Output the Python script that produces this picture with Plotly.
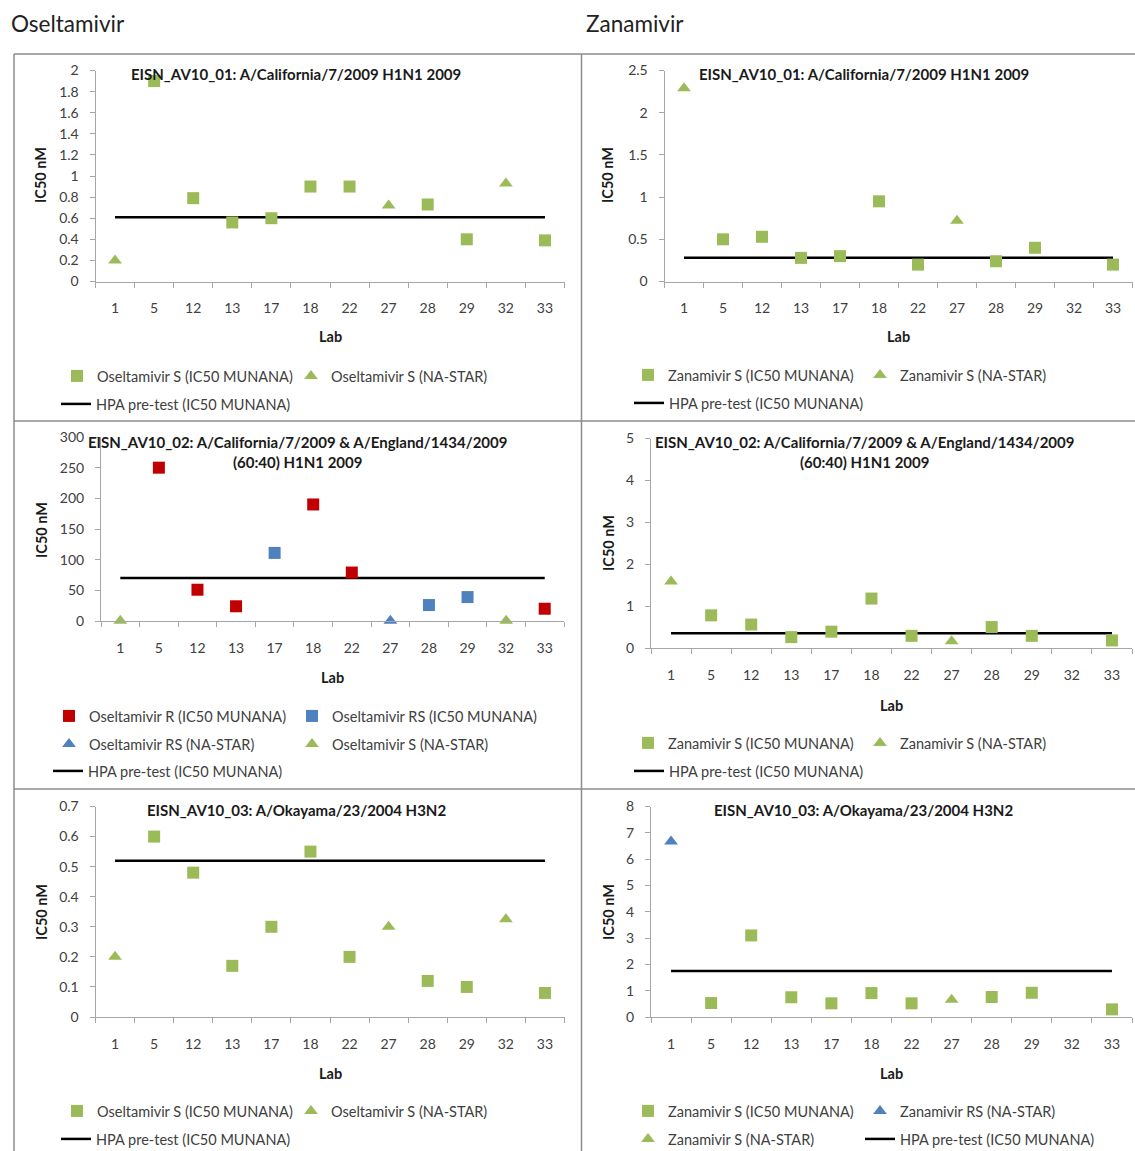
import plotly.graph_objects as go

W, H = 1135, 1151

labs = ["1", "5", "12", "13", "17", "18", "22", "27", "28", "29", "32", "33"]

# Panel 1: Oseltamivir, EISN_AV10_01
p1_s_mun_labs = ["5", "12", "13", "17", "18", "22", "28", "29", "33"]
p1_s_mun_vals = [1.9, 0.79, 0.56, 0.60, 0.90, 0.90, 0.73, 0.40, 0.39]
p1_s_star_labs = ["1", "27", "32"]
p1_s_star_vals = [0.20, 0.72, 0.93]
p1_hpa = 0.61

# Panel 2: Zanamivir, EISN_AV10_01
p2_s_mun_labs = ["5", "12", "13", "17", "18", "22", "28", "29", "33"]
p2_s_mun_vals = [0.50, 0.53, 0.28, 0.30, 0.95, 0.20, 0.24, 0.40, 0.20]
p2_s_star_labs = ["1", "27"]
p2_s_star_vals = [2.29, 0.72]
p2_hpa = 0.28

# Panel 3: Oseltamivir, EISN_AV10_02
p3_r_mun_labs = ["5", "12", "13", "18", "22", "33"]
p3_r_mun_vals = [250, 51, 24, 190, 79, 20]
p3_rs_mun_labs = ["17", "28", "29"]
p3_rs_mun_vals = [111, 26, 39]
p3_rs_star_labs = ["27"]
p3_rs_star_vals = [0.5]
p3_s_star_labs = ["1", "32"]
p3_s_star_vals = [0.5, 0.5]
p3_hpa = 70

# Panel 4: Zanamivir, EISN_AV10_02
p4_s_mun_labs = ["5", "12", "13", "17", "18", "22", "28", "29", "33"]
p4_s_mun_vals = [0.78, 0.56, 0.26, 0.39, 1.18, 0.29, 0.50, 0.29, 0.18]
p4_s_star_labs = ["1", "27"]
p4_s_star_vals = [1.59, 0.16]
p4_hpa = 0.35

# Panel 5: Oseltamivir, EISN_AV10_03
p5_s_mun_labs = ["5", "12", "13", "17", "18", "22", "28", "29", "33"]
p5_s_mun_vals = [0.60, 0.48, 0.17, 0.30, 0.55, 0.20, 0.12, 0.10, 0.08]
p5_s_star_labs = ["1", "27", "32"]
p5_s_star_vals = [0.20, 0.30, 0.325]
p5_hpa = 0.52

# Panel 6: Zanamivir, EISN_AV10_03
p6_s_mun_labs = ["5", "12", "13", "17", "18", "22", "28", "29", "33"]
p6_s_mun_vals = [0.53, 3.1, 0.75, 0.52, 0.91, 0.52, 0.76, 0.92, 0.29]
p6_rs_star_labs = ["1"]
p6_rs_star_vals = [6.67]
p6_s_star_labs = ["27"]
p6_s_star_vals = [0.66]
p6_hpa = 1.75

GREEN = "#9BBB59"
RED = "#C00000"
BLUE = "#4F81BD"
AXC = "#A6A6A6"
TXT = "#404040"
DARK = "#1a1a1a"
FONT = "Lato"

fig = go.Figure()


def sfx_of(k):
    return "" if k == 1 else str(k)


def sq(x, y, name, color, k, leg, lw=None):
    s = sfx_of(k)
    return go.Scatter(x=x, y=y, mode="markers", name=name,
                      marker=dict(symbol="square", size=12, color=color),
                      xaxis="x" + s, yaxis="y" + s, legend=leg, legendwidth=lw,
                      cliponaxis=False)


def tri(x, y, name, color, k, leg, lw=None):
    s = sfx_of(k)
    return go.Scatter(x=x, y=y, mode="markers", name=name,
                      marker=dict(symbol="triangle-up", size=12, color=color),
                      xaxis="x" + s, yaxis="y" + s, legend=leg, legendwidth=lw,
                      cliponaxis=False)


def hpa(v, k, leg):
    s = sfx_of(k)
    return go.Scatter(x=[labs[0], labs[-1]], y=[v, v], mode="lines",
                      name="HPA pre-test (IC50 MUNANA)",
                      line=dict(color="black", width=2.5),
                      xaxis="x" + s, yaxis="y" + s, legend=leg, cliponaxis=False)


# Panel 1
fig.add_trace(hpa(p1_hpa, 1, "legend2"))
fig.add_trace(sq(p1_s_mun_labs, p1_s_mun_vals, "Oseltamivir S (IC50 MUNANA)", GREEN, 1, "legend", 189))
fig.add_trace(tri(p1_s_star_labs, p1_s_star_vals, "Oseltamivir S (NA-STAR)", GREEN, 1, "legend"))
# Panel 2
fig.add_trace(hpa(p2_hpa, 2, "legend4"))
fig.add_trace(sq(p2_s_mun_labs, p2_s_mun_vals, "Zanamivir S (IC50 MUNANA)", GREEN, 2, "legend3", 187))
fig.add_trace(tri(p2_s_star_labs, p2_s_star_vals, "Zanamivir S (NA-STAR)", GREEN, 2, "legend3"))
# Panel 3
fig.add_trace(hpa(p3_hpa, 3, "legend7"))
fig.add_trace(sq(p3_r_mun_labs, p3_r_mun_vals, "Oseltamivir R (IC50 MUNANA)", RED, 3, "legend5", 198))
fig.add_trace(sq(p3_rs_mun_labs, p3_rs_mun_vals, "Oseltamivir RS (IC50 MUNANA)", BLUE, 3, "legend5"))
fig.add_trace(tri(p3_rs_star_labs, p3_rs_star_vals, "Oseltamivir RS (NA-STAR)", BLUE, 3, "legend6", 198))
fig.add_trace(tri(p3_s_star_labs, p3_s_star_vals, "Oseltamivir S (NA-STAR)", GREEN, 3, "legend6"))
# Panel 4
fig.add_trace(hpa(p4_hpa, 4, "legend9"))
fig.add_trace(sq(p4_s_mun_labs, p4_s_mun_vals, "Zanamivir S (IC50 MUNANA)", GREEN, 4, "legend8", 187))
fig.add_trace(tri(p4_s_star_labs, p4_s_star_vals, "Zanamivir S (NA-STAR)", GREEN, 4, "legend8"))
# Panel 5
fig.add_trace(hpa(p5_hpa, 5, "legend11"))
fig.add_trace(sq(p5_s_mun_labs, p5_s_mun_vals, "Oseltamivir S (IC50 MUNANA)", GREEN, 5, "legend10", 189))
fig.add_trace(tri(p5_s_star_labs, p5_s_star_vals, "Oseltamivir S (NA-STAR)", GREEN, 5, "legend10"))
# Panel 6
fig.add_trace(sq(p6_s_mun_labs, p6_s_mun_vals, "Zanamivir S (IC50 MUNANA)", GREEN, 6, "legend12", 187))
fig.add_trace(tri(p6_rs_star_labs, p6_rs_star_vals, "Zanamivir RS (NA-STAR)", BLUE, 6, "legend12"))
fig.add_trace(tri(p6_s_star_labs, p6_s_star_vals, "Zanamivir S (NA-STAR)", GREEN, 6, "legend13", 187))
fig.add_trace(hpa(p6_hpa, 6, "legend13"))

# panel geometry in pixels: (x_left, x_right, y_top, y_bottom, ymax, dtick)
panels = [
    (95.5, 564.5, 70.5, 281.5, 2, 0.2),
    (664.5, 1132.5, 70.5, 281.5, 2.5, 0.5),
    (101, 564, 437, 621, 300, 50),
    (651, 1132, 438.5, 648, 5, 1),
    (95.5, 564.5, 806.5, 1017, 0.7, 0.1),
    (651, 1132, 806.5, 1017, 8, 1),
]

layout = dict(width=W, height=H,
              margin=dict(l=0, r=0, t=0, b=0, pad=0, autoexpand=False),
              paper_bgcolor="white", plot_bgcolor="white",
              font=dict(family=FONT, size=14, color=TXT))

for i, (xl, xr, yt, yb, ymax, dt) in enumerate(panels, start=1):
    s = sfx_of(i)
    layout["xaxis" + s] = dict(
        domain=[xl / W, xr / W], anchor="y" + s, type="category",
        categoryorder="array", categoryarray=labs, range=[-0.5, len(labs) - 0.5],
        showline=True, linecolor=AXC, linewidth=1, ticks="outside", ticklen=5,
        tickcolor=AXC, tickson="boundaries", showgrid=False, zeroline=False,
        tickfont=dict(size=14, color=TXT), ticklabelstandoff=14,
        automargin=False, fixedrange=True)
    layout["yaxis" + s] = dict(
        domain=[1 - yb / H, 1 - yt / H], anchor="x" + s, range=[0, ymax],
        tick0=0, dtick=dt, showline=True, linecolor=AXC, linewidth=1,
        ticks="outside", ticklen=5, tickcolor=AXC, showgrid=False, zeroline=False,
        tickfont=dict(size=14, color=TXT), ticklabelstandoff=8,
        automargin=False, fixedrange=True)

# legends: (name, item start x px, row center y px)
legends = [
    ("legend", 57, 376), ("legend2", 56, 404),
    ("legend3", 628, 375), ("legend4", 629, 403),
    ("legend5", 49, 716), ("legend6", 49, 744), ("legend7", 48, 771),
    ("legend8", 628, 743), ("legend9", 629, 771),
    ("legend10", 57, 1111), ("legend11", 56, 1139),
    ("legend12", 628, 1111), ("legend13", 628, 1139),
]
for name, lx, ly in legends:
    layout[name] = dict(x=lx / W, xanchor="left", y=1 - ly / H, yanchor="middle",
                        orientation="h", entrywidthmode="pixels",
                        bgcolor="rgba(0,0,0,0)", borderwidth=0,
                        font=dict(family=FONT, size=14.5, color=TXT),
                        traceorder="normal", itemclick=False, itemdoubleclick=False)

fig.update_layout(**layout)

annotations = []


def txt(x, y, s, size=14, bold=False, angle=0, xanchor="center", color=TXT):
    annotations.append(dict(
        x=x / W, y=1 - y / H, xref="paper", yref="paper", text=("<b>%s</b>" % s) if bold else s,
        showarrow=False, xanchor=xanchor, yanchor="middle", textangle=angle,
        font=dict(family=FONT, size=size, color=color)))


txt(9, 23, "Oseltamivir", size=22.5, xanchor="left", color="#222222")
txt(584, 23, "Zanamivir", size=22.5, xanchor="left", color="#222222")

TS = 15
txt(296, 74, "EISN_AV10_01: A/California/7/2009 H1N1 2009", size=TS, bold=True, color=DARK)
txt(864, 74, "EISN_AV10_01: A/California/7/2009 H1N1 2009", size=TS, bold=True, color=DARK)
txt(297, 452, "EISN_AV10_02: A/California/7/2009 &amp; A/England/1434/2009<br>(60:40) H1N1 2009",
    size=TS, bold=True, color=DARK)
txt(864, 452, "EISN_AV10_02: A/California/7/2009 &amp; A/England/1434/2009<br>(60:40) H1N1 2009",
    size=TS, bold=True, color=DARK)
txt(296, 810, "EISN_AV10_03: A/Okayama/23/2004 H3N2", size=TS, bold=True, color=DARK)
txt(863, 810, "EISN_AV10_03: A/Okayama/23/2004 H3N2", size=TS, bold=True, color=DARK)

for (x, y) in [(41, 175), (608, 175), (41, 530), (608, 543), (41, 912), (608, 912)]:
    txt(x, y, "IC50 nM", size=14.5, bold=True, angle=-90, color=DARK)
for (x, y) in [(330, 337), (898, 337), (332, 678), (891, 705), (330, 1073), (891, 1073)]:
    txt(x, y, "Lab", size=14.5, bold=True, color=DARK)

fig.update_layout(annotations=annotations)

# panel frames
BC = "#8C8C8C"
shapes = []


def ln(x0, y0, x1, y1):
    shapes.append(dict(type="line", xref="paper", yref="paper",
                       x0=x0 / W, y0=1 - y0 / H, x1=x1 / W, y1=1 - y1 / H,
                       line=dict(color=BC, width=1.5)))


ln(14, 54, 14, H)
ln(581.5, 54, 581.5, H)
ln(14, 54, W, 54)
ln(14, 421, W, 421)
ln(14, 789, W, 789)
fig.update_layout(shapes=shapes)

fig.write_html("out.html")
